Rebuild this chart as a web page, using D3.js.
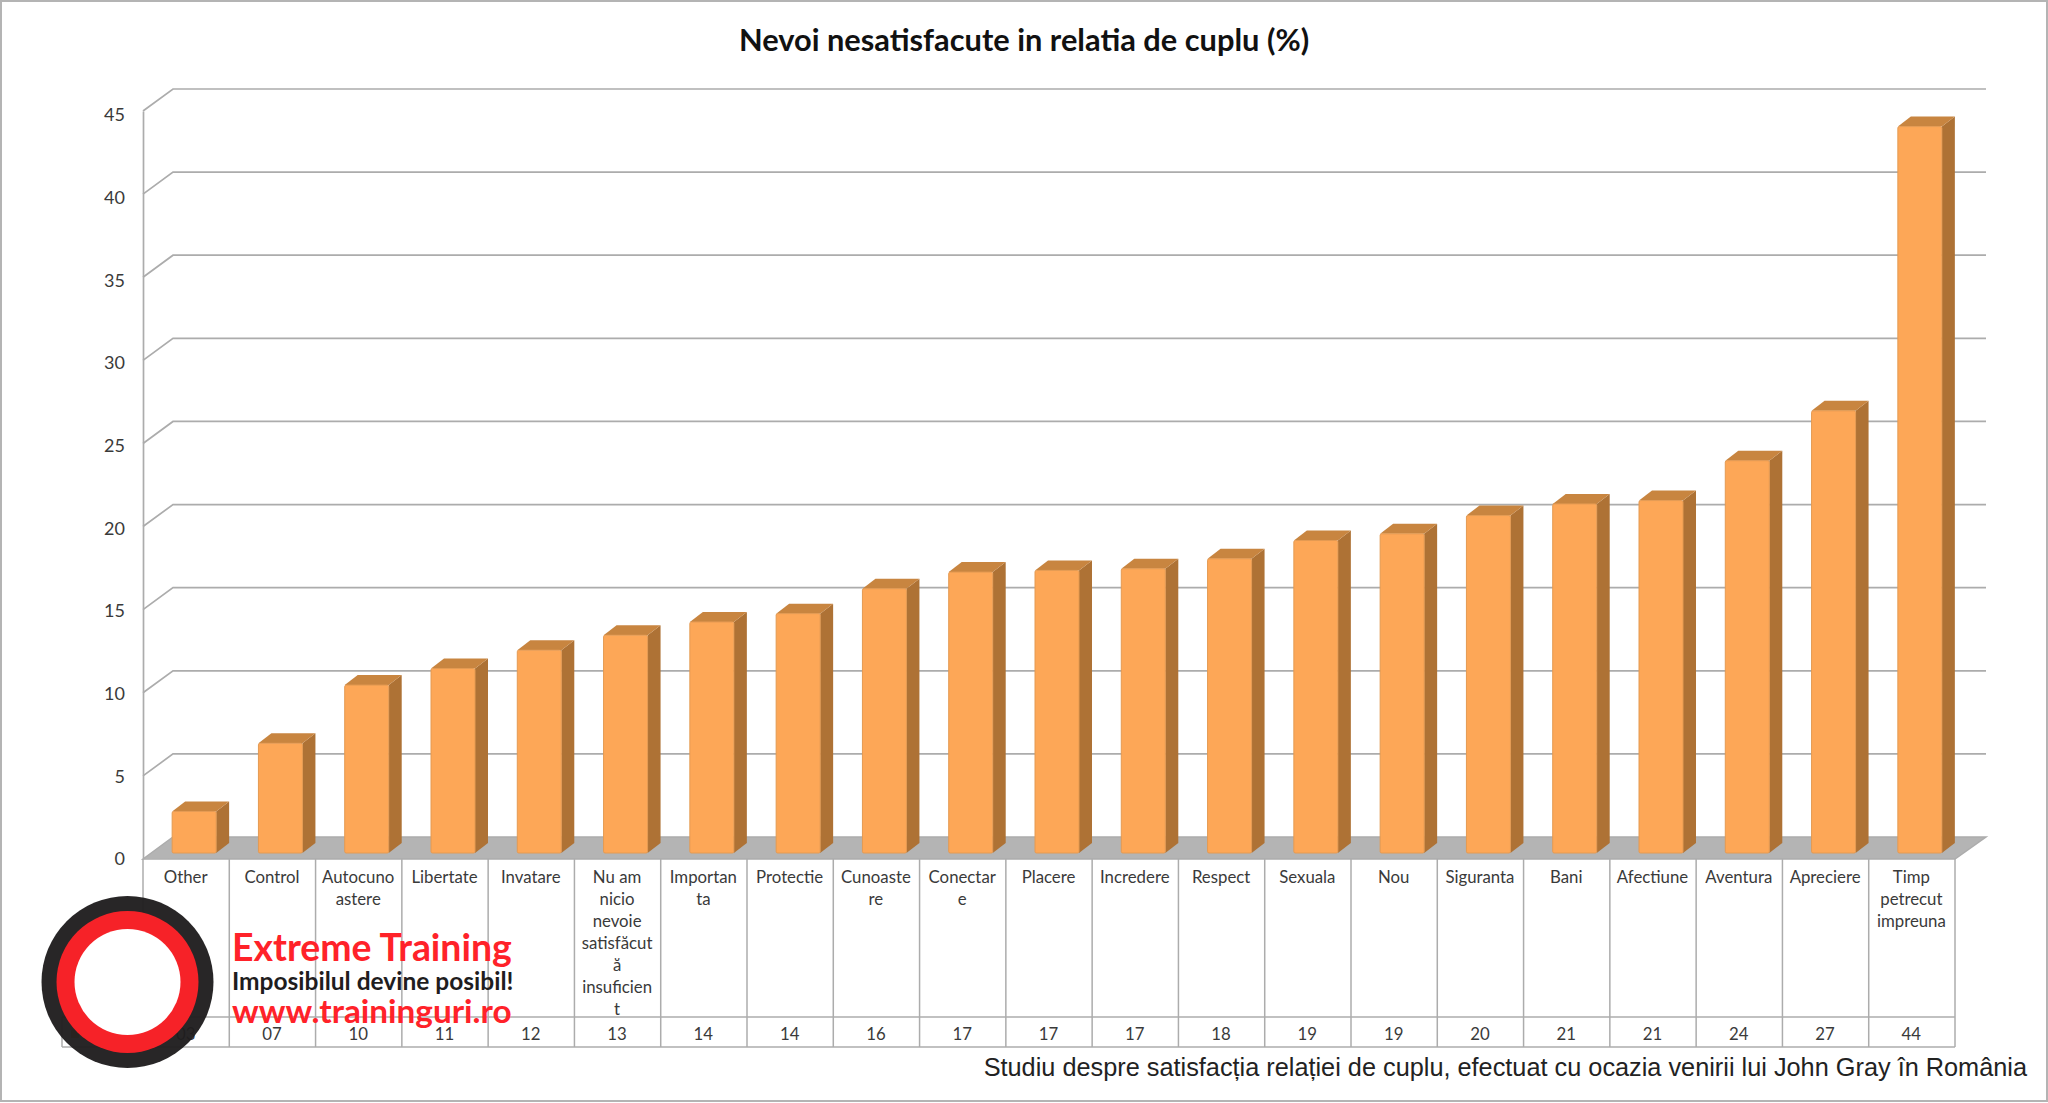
<!DOCTYPE html>
<html><head><meta charset="utf-8">
<script src="https://cdn.jsdelivr.net/npm/d3@7"></script>
<style>html,body{margin:0;padding:0;background:#fff}svg{display:block}</style>
</head><body><svg id="c" width="2048" height="1103"></svg>
<script>
const titleText = "Nevoi nesatisfacute in relatia de cuplu (%)";
const footerText = "Studiu despre satisfacția relației de cuplu, efectuat cu ocazia venirii lui John Gray în România";
const categories = ["Other","Control","Autocunoastere","Libertate","Invatare","Nu am nicio nevoie satisfăcută insuficient","Importanta","Protectie","Cunoastere","Conectare","Placere","Incredere","Respect","Sexuala","Nou","Siguranta","Bani","Afectiune","Aventura","Apreciere","Timp petrecut impreuna"];
const categoryLines = [["Other"],["Control"],["Autocuno","astere"],["Libertate"],["Invatare"],["Nu am","nicio","nevoie","satisfăcut","ă","insuficien","t"],["Importan","ta"],["Protectie"],["Cunoaste","re"],["Conectar","e"],["Placere"],["Incredere"],["Respect"],["Sexuala"],["Nou"],["Siguranta"],["Bani"],["Afectiune"],["Aventura"],["Apreciere"],["Timp","petrecut","impreuna"]];
const values = [2.5,6.6,10.1,11.1,12.2,13.1,13.9,14.4,15.9,16.9,17.0,17.1,17.7,18.8,19.2,20.3,21.0,21.2,23.6,26.6,43.7];
const valueLabels = ["03","07","10","11","12","13","14","14","16","17","17","17","18","19","19","20","21","21","24","27","44"];
const yTicks = [0,5,10,15,20,25,30,35,40,45];
const seriesName = "Series1";
const logoLines = ["Extreme Training","Imposibilul devine posibil!","www.traininguri.ro"];

const svg = d3.select("#c");
const GRID="#acacac", TXT="#3a3a3a", SANS="Lato, 'Open Sans', sans-serif";
const plotLeft=143, plotRight=1955, plotTop=111, plotZero=859, depthX=30, depthY=22;
const x = d3.scaleBand().domain(categories).range([plotLeft,plotRight]).padding(0);
const y = d3.scaleLinear().domain([0,45]).range([plotZero,plotTop]);

// outer frame
svg.append("rect").attr("x",1).attr("y",1).attr("width",2046).attr("height",1100).attr("fill","#fff").attr("stroke","#b4b4b4").attr("stroke-width",2);

// title
svg.append("text").attr("x",1024).attr("y",51).attr("text-anchor","middle").attr("font-family",SANS).attr("font-weight",700).attr("font-size",30.8).attr("fill","#111").text(titleText);

// floor
const defs=svg.append("defs");
const fg=defs.append("linearGradient").attr("id","floor").attr("x1",0).attr("x2",1).attr("y1",1).attr("y2",0);
fg.append("stop").attr("offset",0).attr("stop-color","#e0e0e0");
fg.append("stop").attr("offset",0.025).attr("stop-color","#b4b4b4");
fg.append("stop").attr("offset",1).attr("stop-color","#b4b4b4");
svg.append("path").attr("fill","url(#floor)").attr("stroke",GRID).attr("stroke-width",1.5)
  .attr("d",d3.line()([[plotLeft,y(0)],[plotLeft+depthX,y(0)-depthY],[plotRight+depthX+1,y(0)-depthY],[plotRight,y(0)]])+"Z");

// back wall gridlines
const grid=svg.append("g").attr("fill","none").attr("stroke",GRID).attr("stroke-width",1.7);
yTicks.filter(d=>d>0).forEach(d=>{
  grid.append("path").attr("d",d3.line()([[plotLeft,y(d)],[plotLeft+depthX,y(d)-depthY],[plotRight+depthX+1,y(d)-depthY]]));
});

// axis
const axis=svg.append("g").attr("transform",`translate(${plotLeft},0)`).call(d3.axisLeft(y).tickValues(yTicks).tickSize(0).tickPadding(18));
axis.select(".domain").attr("stroke",GRID).attr("stroke-width",1.7);
axis.selectAll("text").attr("font-family",SANS).attr("font-size",18).attr("fill",TXT).attr("dy","0.65em").attr("transform",d=>`translate(0,${-2-4*(1-d/45)})`);

// bars
const bw=44, bx=d=>x(d)+x.bandwidth()/2+8-bw/2, base=-6, dX=13, dY=10;
const yb=v=>y(v)+base;
const bars=svg.append("g").selectAll("g").data(categories).join("g");
bars.append("path").attr("fill","#ae7235").attr("d",(d,i)=>d3.line()([[bx(d)+bw,yb(values[i])],[bx(d)+bw+dX,yb(values[i])-dY],[bx(d)+bw+dX,yb(0)-dY],[bx(d)+bw,yb(0)]])+"Z");
bars.append("path").attr("fill","#c88540").attr("d",(d,i)=>d3.line()([[bx(d),yb(values[i])],[bx(d)+dX,yb(values[i])-dY],[bx(d)+bw+dX,yb(values[i])-dY],[bx(d)+bw,yb(values[i])]])+"Z");
bars.append("rect").attr("x",d=>bx(d)).attr("width",bw).attr("y",(d,i)=>yb(values[i])).attr("height",(d,i)=>yb(0)-yb(values[i])).attr("rx",1.5).attr("fill","#fda757").attr("stroke","#e49a52").attr("stroke-width",1);

// data table
const tableMid=1017, tableBottom=1047, keyLeft=62;
const tbl=svg.append("g").attr("fill","none").attr("stroke",GRID).attr("stroke-width",1.5);
[...categories.map(d=>x(d)),plotRight].forEach(px=>tbl.append("line").attr("x1",px).attr("x2",px).attr("y1",plotZero).attr("y2",tableBottom));
tbl.append("line").attr("x1",keyLeft).attr("x2",plotRight).attr("y1",tableMid).attr("y2",tableMid);
tbl.append("line").attr("x1",keyLeft).attr("x2",plotRight).attr("y1",tableBottom).attr("y2",tableBottom);
tbl.append("line").attr("x1",keyLeft).attr("x2",keyLeft).attr("y1",tableMid).attr("y2",tableBottom);
const lab=svg.append("g").attr("font-family",SANS).attr("font-size",16.8).attr("fill",TXT).attr("text-anchor","middle");
categories.forEach((c,i)=>{
  categoryLines[i].forEach((t,j)=>lab.append("text").attr("x",x(c)+x.bandwidth()/2-0.5).attr("y",883+j*22).text(t));
  lab.append("text").attr("x",x(c)+x.bandwidth()/2-0.5).attr("y",1040).text(valueLabels[i]);
});
svg.append("rect").attr("x",71).attr("y",1030).attr("width",8).attr("height",8).attr("fill","#fda757");
svg.append("text").attr("x",83).attr("y",1040).attr("font-family",SANS).attr("font-size",16.8).attr("fill",TXT).text(seriesName);

// logo
const logo=svg.append("g");
logo.append("circle").attr("cx",127.5).attr("cy",982).attr("r",86).attr("fill","#1f1d1e").attr("fill-opacity",.96);
logo.append("circle").attr("cx",127.5).attr("cy",982).attr("r",71).attr("fill","#ff2229").attr("fill-opacity",.96);
logo.append("circle").attr("cx",127.5).attr("cy",982).attr("r",53).attr("fill","#fff");
const lt=logo.append("g").attr("font-family",SANS).attr("font-weight",700);
lt.append("text").attr("x",232).attr("y",961).attr("font-size",37.4).attr("fill","#ff2229").text(logoLines[0]);
lt.append("text").attr("x",232).attr("y",990).attr("font-size",24.5).attr("fill","#1f1d1e").text(logoLines[1]);
lt.append("text").attr("x",232).attr("y",1023).attr("font-size",33.3).attr("fill","#ff2229").text(logoLines[2]);

// footer
svg.append("text").attr("x",2027).attr("y",1076).attr("text-anchor","end").attr("font-family","'Liberation Sans',Arial,sans-serif").attr("font-size",25.3).attr("fill","#222").text(footerText);
</script></body></html>
